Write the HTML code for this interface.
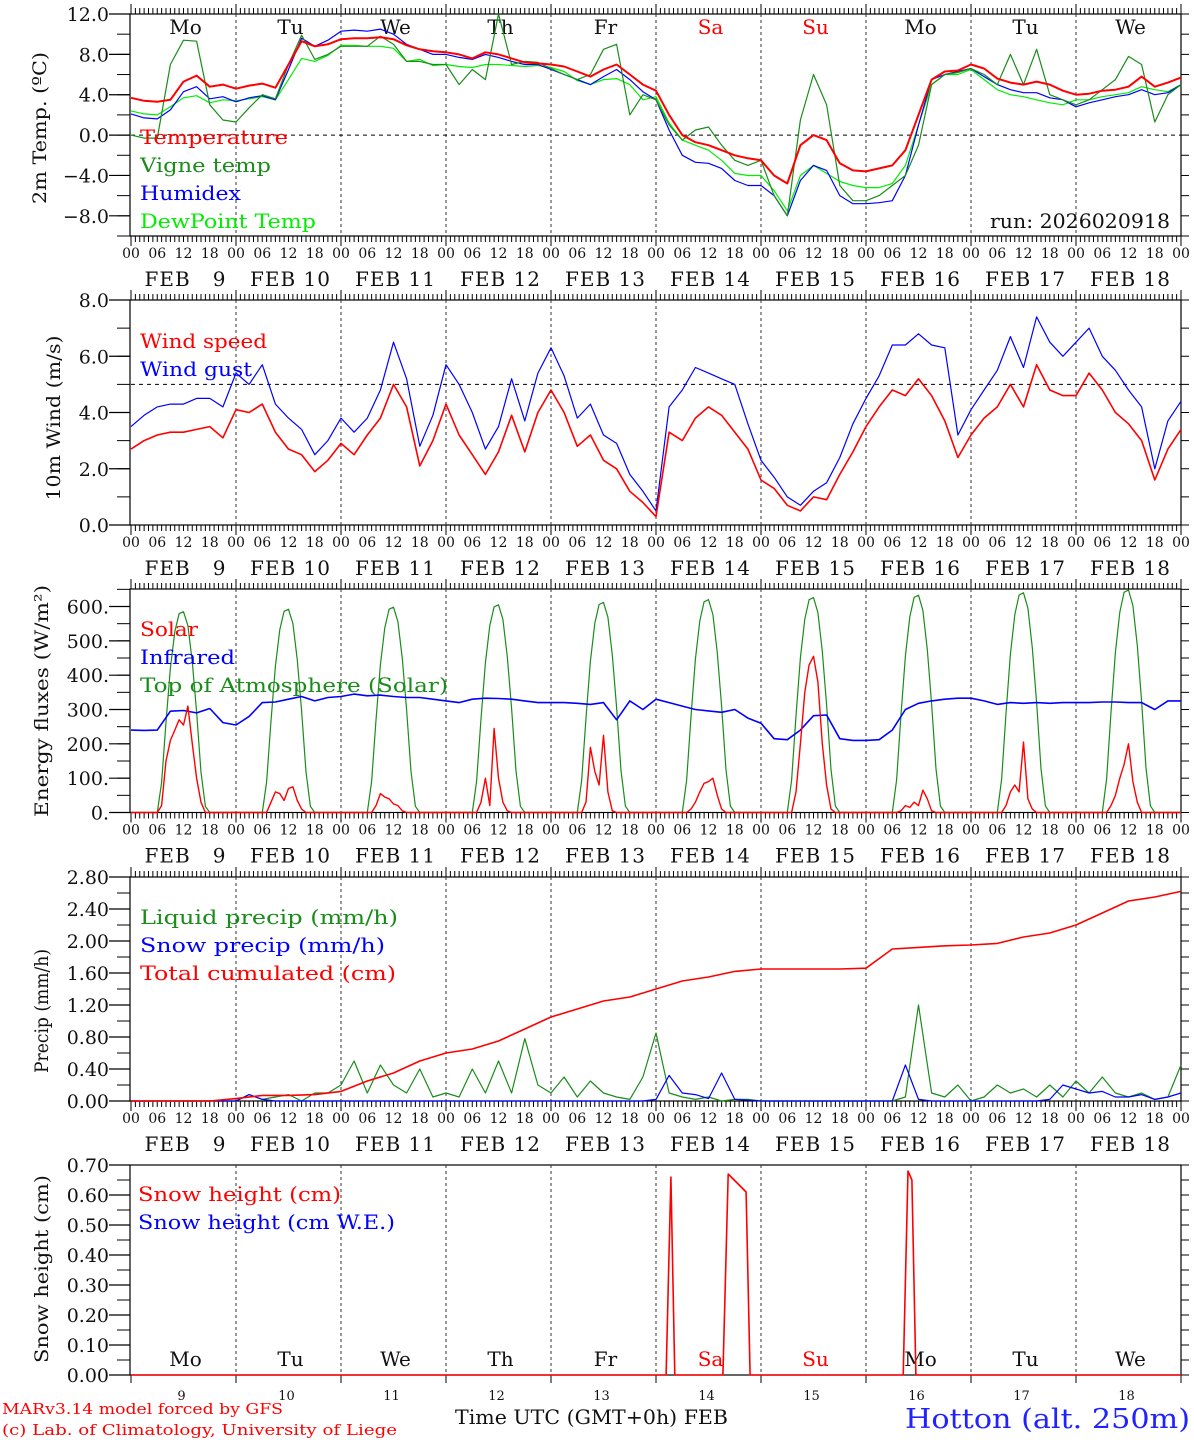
<!DOCTYPE html>
<html><head><meta charset="utf-8"><title>MAR meteogram Hotton</title>
<style>
html,body{margin:0;padding:0;background:#fff;}
svg{display:block;font-family:"DejaVu Serif","Liberation Serif",serif;}
</style></head>
<body>
<svg id="chart" width="1194" height="1440" viewBox="0 0 1194 1440" xmlns="http://www.w3.org/2000/svg"></svg>
<script>
// ---------- DATA (3-hourly unless noted; hour 0 = FEB 9 00 UTC) ----------
const dayNames = ["Mo","Tu","We","Th","Fr","Sa","Su","Mo","Tu","We"];
const dayNums = ["9","10","11","12","13","14","15","16","17","18"];
const hourTicks = ["00","06","12","18"];

const tempRed = [3.7,3.4,3.3,3.5,5.3,5.9,4.8,5.0, 4.6,4.9,5.1,4.7,7.0,9.3,8.8,9.0, 9.5,9.6,9.6,9.7,9.5,8.9,8.5,8.3, 8.2,8.0,7.6,8.2,8.0,7.6,7.2,7.1, 7.0,6.8,6.3,5.8,6.5,7.0,6.0,5.0, 4.4,2.0,0.0,-0.7,-1.0,-1.5,-2.0,-2.3, -2.5,-4.0,-4.8,-1.0,0.0,-0.5,-2.8,-3.5, -3.6,-3.3,-3.0,-1.5,2.0,5.5,6.3,6.4, 7.0,6.6,5.6,5.2,5.0,5.3,5.0,4.4, 4.0,4.1,4.4,4.5,4.8,5.8,4.8,5.2,5.7];
const tempVigne = [0.0,-0.3,-0.3,7.0,9.4,9.3,3.0,1.5, 1.3,2.7,4.0,3.6,7.0,9.9,7.5,8.0, 8.8,8.8,8.8,9.8,9.0,7.3,7.3,7.0, 7.0,5.0,6.5,5.5,12.0,7.0,7.3,7.2, 6.6,6.0,5.5,6.0,8.5,9.0,2.0,4.0, 3.5,1.0,-0.5,0.5,0.8,-1.0,-2.5,-3.0, -2.5,-6.0,-8.0,1.5,6.0,3.0,-5.0,-6.5, -6.5,-6.0,-5.0,-4.0,-1.0,5.0,6.0,6.2, 6.6,6.0,5.0,8.0,5.0,8.5,4.0,3.5, 3.0,3.5,4.5,5.5,7.8,7.0,1.3,4.0,5.0];
const tempHumidex = [2.1,1.7,1.6,2.5,4.3,4.8,3.6,3.8, 3.3,3.7,3.9,3.5,6.5,9.6,8.8,9.4, 10.3,10.4,10.3,10.5,10.0,9.0,8.5,8.0, 8.0,7.7,7.5,8.0,7.7,7.3,7.0,7.0, 6.5,6.0,5.5,5.0,5.8,6.5,5.5,4.3, 3.5,0.5,-2.0,-2.7,-2.8,-3.3,-4.5,-5.0, -5.0,-6.0,-8.0,-4.5,-3.0,-3.5,-6.0,-6.8, -6.8,-6.7,-6.5,-4.0,1.0,5.5,6.0,6.3, 6.6,5.8,5.0,4.5,4.2,4.2,3.7,3.5, 2.8,3.2,3.5,3.8,4.0,4.5,4.0,4.2,5.0];
const tempDew = [2.4,2.1,2.0,2.8,3.7,3.9,3.2,3.5, 3.4,3.6,3.8,3.5,5.5,7.6,7.3,7.9, 8.9,8.9,8.8,8.8,8.6,7.3,7.5,6.9, 7.0,6.8,6.7,7.0,7.0,6.9,6.8,6.9, 6.7,6.3,5.4,5.0,5.5,5.6,5.0,3.5, 3.8,1.2,-0.5,-1.0,-1.5,-2.5,-3.8,-4.0, -4.0,-5.5,-7.5,-4.0,-3.0,-3.8,-4.6,-5.0, -5.2,-5.2,-4.8,-3.0,1.0,5.0,6.0,6.0, 6.5,5.5,4.5,4.0,3.8,3.5,3.2,3.0, 3.5,3.5,3.8,4.0,4.2,4.8,4.5,4.3,5.0];

const windSpeed = [2.7,3.0,3.2,3.3,3.3,3.4,3.5,3.1, 4.1,4.0,4.3,3.3,2.7,2.5,1.9,2.3, 2.9,2.5,3.2,3.8,5.0,4.2,2.1,3.0, 4.3,3.2,2.5,1.8,2.6,3.9,2.6,4.0, 4.8,4.0,2.8,3.2,2.3,2.0,1.2,0.8, 0.3,3.3,3.0,3.8,4.2,3.9,3.3,2.7, 1.6,1.3,0.7,0.5,1.0,0.9,1.8,2.6, 3.5,4.2,4.8,4.6,5.2,4.6,3.7,2.4, 3.2,3.8,4.2,5.0,4.2,5.7,4.8,4.6, 4.6,5.4,4.8,4.0,3.6,3.0,1.6,2.7,3.4];
const windGust = [3.5,3.9,4.2,4.3,4.3,4.5,4.5,4.2, 5.4,5.0,5.7,4.3,3.8,3.4,2.5,3.0, 3.8,3.3,3.8,4.8,6.5,5.2,2.8,3.9, 5.7,5.0,4.0,2.7,3.5,5.2,3.7,5.4, 6.3,5.3,3.8,4.3,3.2,2.9,1.8,1.2, 0.5,4.2,4.8,5.6,5.4,5.2,5.0,3.6, 2.3,1.7,1.0,0.7,1.2,1.5,2.4,3.6, 4.5,5.3,6.4,6.4,6.8,6.4,6.3,3.2, 4.1,4.8,5.5,6.7,5.6,7.4,6.5,6.0, 6.5,7.0,6.0,5.5,4.8,4.2,2.0,3.7,4.4];

// Solar (hourly, hours 7..17 of each day; zero otherwise)
const solarDay = [
 [20,150,210,240,270,255,310,200,100,30,0],
 [0,30,60,55,35,70,75,35,10,0,0],
 [0,20,55,45,40,25,20,5,0,0,0],
 [0,30,100,20,245,100,30,5,0,0,0],
 [0,30,190,120,80,225,60,5,0,0,0],
 [0,10,30,60,85,90,100,50,10,0,0],
 [0,60,200,350,430,455,380,200,80,10,0],
 [0,5,20,15,30,20,65,40,5,0,0],
 [0,20,60,80,60,205,40,10,0,0,0],
 [0,20,50,100,140,200,90,30,0,0,0]];
// Top of atmosphere: daily peak and hourly normalized profile (hours 6..18)
const toaPeak = [585,592,598,605,612,620,626,633,640,648];
const toaProfile = [0,0.15,0.45,0.72,0.9,0.99,1,0.93,0.75,0.5,0.2,0.03,0];
const infrared = [240,239,240,295,297,290,303,262, 255,280,320,322,330,338,325,335, 338,345,340,342,338,335,335,330, 325,320,330,333,332,330,325,320, 320,320,318,315,320,270,325,300, 330,320,310,300,296,292,300,275, 260,215,212,240,282,284,215,210, 210,212,240,300,318,325,330,333, 333,325,315,320,318,320,318,320, 320,320,322,322,320,320,300,325,325];

// Precip: cumulated is 6-hourly
const precipCum = [0,0,0,0, 0.03,0.07,0.07,0.08, 0.12,0.25,0.35,0.5, 0.6,0.65,0.75,0.9, 1.05,1.15,1.25,1.3, 1.4,1.5,1.55,1.62, 1.65,1.65,1.65,1.65, 1.66,1.9,1.92,1.94, 1.95,1.97,2.05,2.1, 2.2,2.35,2.5,2.55,2.62];
const precipLiquid = [0,0,0,0,0,0,0,0, 0,0.08,0.02,0.05,0.08,0,0.1,0.1, 0.2,0.5,0.1,0.45,0.2,0.1,0.4,0.05, 0.1,0.05,0.4,0.1,0.5,0.1,0.78,0.2, 0.1,0.3,0.05,0.25,0.1,0.05,0.02,0.3, 0.85,0.1,0.05,0.02,0.05,0,0.02,0.02, 0,0,0,0,0,0,0,0, 0,0,0,0.05,1.2,0.1,0.05,0.2, 0,0.05,0.2,0.1,0.15,0.05,0.2,0.05, 0.25,0.1,0.3,0.1,0.05,0.1,0.02,0.05,0.45];
const precipSnow = [0,0,0,0,0,0,0,0, 0,0.08,0.02,0,0,0,0,0, 0,0,0,0,0,0,0,0, 0,0,0,0,0,0,0,0, 0,0,0,0,0,0,0,0, 0.02,0.32,0.1,0.08,0.03,0.35,0.02,0.01, 0,0,0,0,0,0,0,0, 0,0,0,0.45,0.02,0,0,0, 0,0,0,0,0,0,0.02,0.2, 0.15,0.1,0.12,0.05,0.05,0.08,0.02,0.05,0.1];

const snowHours = [0,122.3,123.4,124.3,135.3,136.5,140.6,141.5,176.5,177.6,178.5,179.4,240];
const snowValues = [0,0,0.66,0,0,0.67,0.61,0,0,0.68,0.65,0,0];

// ---------- DRAW ----------
const svg = document.getElementById('chart');
const NS = 'http://www.w3.org/2000/svg';
const X0 = 131, X1 = 1181, HOURS = 240;
const xs = h => X0 + h * (X1 - X0) / HOURS;
function el(tag, attrs, parent){ const e=document.createElementNS(NS,tag); for(const k in attrs) e.setAttribute(k,attrs[k]); (parent||svg).appendChild(e); return e; }
function txt(s, attrs, parent){ const e=el('text',attrs,parent); e.textContent=s; return e; }

function panel(name, top, bot, vmin, vmax, majors, fmt, minorStep, ytitle, titleX, titleY, titleLen, hourStrip){
  const g = el('g',{});
  
  
  const ys = v => bot - (v - vmin) * (bot - top) / (vmax - vmin);
  const fr = el('rect',{x:X0-1,y:top,width:X1-X0+1,height:bot-top,fill:'none',stroke:'#000','stroke-width':1.2},g);
  
  
  for(let v=vmin; v<=vmax+1e-9; v+=minorStep){
    const y=ys(v);
    el('line',{x1:X0-14,y1:y,x2:X0-1,y2:y,stroke:'#000','stroke-width':1},g);
    el('line',{x1:X1,y1:y,x2:X1+8,y2:y,stroke:'#000','stroke-width':1},g);
  }
  majors.forEach(v=>{
    const y=ys(v);
    el('line',{x1:X0-22,y1:y,x2:X0-1,y2:y,stroke:'#000','stroke-width':1.2},g);
    const t=txt(fmt(v),{x:X0-22,y:y+7,'text-anchor':'end','font-size':19,fill:'#111'},g);
    
    
  });
  const yt = txt(ytitle,{x:titleX,y:titleY,'text-anchor':'middle','font-size':19,fill:'#111',textLength:titleLen,lengthAdjust:'spacingAndGlyphs',transform:`rotate(-90 ${titleX} ${titleY})`},g);
  
  
  for(let d=1; d<10; d++){
    const x=xs(d*24);
    el('line',{x1:x,y1:top,x2:x,y2:bot,stroke:'#333','stroke-width':1,'stroke-dasharray':'3,3'},g);
  }
  if(hourStrip){
    for(let h=0; h<=HOURS; h++){
      const x=xs(h), L = (h%24===0)?10:6;
      el('line',{x1:x,y1:top-L,x2:x,y2:top,stroke:'#000','stroke-width':1},g);
      el('line',{x1:x,y1:bot,x2:x,y2:bot+L,stroke:'#000','stroke-width':1},g);
    }
    for(let d=0; d<=10; d++){
      for(let k=0;k<4;k++){
        if(d===10 && k>0) break;
        const t=txt(hourTicks[k],{x:xs(d*24+k*6),y:bot+22,'text-anchor':'middle','font-size':14,fill:'#111'},g);
        
        
      }
      if(d<10){
        const t=txt('FEB '+(dayNums[d].length<2?'\u00a0\u00a0':'')+dayNums[d],{x:xs(d*24+12)+2,y:bot+50,'text-anchor':'middle','font-size':20,'letter-spacing':1,fill:'#111'},g);
        
        
      }
    }
  }
  return {g, ys};
}
function line(p, hours, vals, color, w, name){
  const pts = vals.map((v,i)=>xs(hours(i)).toFixed(1)+','+p.ys(v).toFixed(1)).join(' ');
  const e = el('polyline',{points:pts,fill:'none',stroke:color,'stroke-width':w,'stroke-linejoin':'round'},p.g);
  
  
  return e;
}
function legend(p, items, x, y0, dy){
  items.forEach((it,i)=>{
    const t=txt(it[0],{x:x,y:y0+i*dy,'font-size':20,fill:it[1],textLength:it[2],lengthAdjust:'spacingAndGlyphs'},p.g);
    
    
  });
}
function dayLabels(p, y){
  dayNames.forEach((n,d)=>{
    const t=txt(n,{x:xs(d*24+12)+2,y:y,'text-anchor':'middle','font-size':20,fill:(d===5||d===6)?'#f00':'#111'},p.g);
    
    
  });
}
const h3 = i=>i*3, h6 = i=>i*6;

// Panel 1: temperature
const p1 = panel('temperature',14,236,-10,12,[-8,-4,0,4,8,12],v=>v.toFixed(1).replace('-','\u2212'),2,'2m Temp. (\u00baC)',46,128,152,true);
el('line',{x1:X0,y1:p1.ys(0),x2:X1,y2:p1.ys(0),stroke:'#000','stroke-width':1,'stroke-dasharray':'4,4'},p1.g);
dayLabels(p1, 34);
line(p1,h3,tempDew,'#00ee00',1.2,'dewpoint-line');
line(p1,h3,tempHumidex,'#0000ff',1.2,'humidex-line');
line(p1,h3,tempVigne,'#1a8c1a',1.2,'vigne-temp-line');
line(p1,h3,tempRed,'#ff0000',2,'temperature-line');
legend(p1,[['Temperature','#ff0000',148],['Vigne temp','#1a8c1a',131],['Humidex','#0000ff',101],['DewPoint Temp','#00ee00',176]],140,144,28);
{const t=txt('run: 2026020918',{x:990,y:228,'font-size':20,fill:'#111',textLength:180,lengthAdjust:'spacingAndGlyphs'},p1.g);  }

// Panel 2: wind
const p2 = panel('wind',300,525,0,8,[0,2,4,6,8],v=>v.toFixed(1),1,'10m Wind (m/s)',60,418,165,true);
el('line',{x1:X0,y1:p2.ys(5),x2:X1,y2:p2.ys(5),stroke:'#000','stroke-width':1,'stroke-dasharray':'4,4'},p2.g);
line(p2,h3,windGust,'#0000ff',1.2,'wind-gust-line');
line(p2,h3,windSpeed,'#ff0000',1.6,'wind-speed-line');
legend(p2,[['Wind speed','#ff0000',127],['Wind gust','#0000ff',112]],140,348,28);

// Panel 3: energy
const p3 = panel('energy',589,812.5,0,651,[0,100,200,300,400,500,600],v=>v+'.',50,'Energy fluxes (W/m\u00b2)',48,701,232,true);
const toaH=[], toaV=[], solH=[], solV=[];
for(let d=0; d<10; d++){
  toaProfile.forEach((f,k)=>{ toaH.push(d*24+6+k); toaV.push(toaPeak[d]*f); });
  solH.push(d*24+6); solV.push(0);
  solarDay[d].forEach((v,k)=>{ solH.push(d*24+7+k); solV.push(v); });
  solH.push(d*24+18); solV.push(0);
}
toaH.unshift(0); toaV.unshift(0); toaH.push(240); toaV.push(0);
solH.unshift(0); solV.unshift(0); solH.push(240); solV.push(0);
line(p3,i=>toaH[i],toaV,'#1a8c1a',1.2,'toa-solar-line');
line(p3,h3,infrared,'#0000ff',1.6,'infrared-line');
line(p3,i=>solH[i],solV,'#ff0000',1.4,'solar-line');
legend(p3,[['Solar','#ff0000',58],['Infrared','#0000ff',95],['Top of Atmosphere (Solar)','#1a8c1a',308]],140,636,28);

// Panel 4: precip
const p4 = panel('precip',877,1101,0,2.8,[0,0.4,0.8,1.2,1.6,2.0,2.4,2.8],v=>v.toFixed(2),0.2,'Precip (mm/h)',48,1011,124,true);
line(p4,h3,precipLiquid,'#1a8c1a',1.2,'liquid-precip-line');
line(p4,h3,precipSnow,'#0000ff',1.2,'snow-precip-line');
line(p4,h6,precipCum,'#ff0000',1.6,'cumulated-precip-line');
legend(p4,[['Liquid precip (mm/h)','#1a8c1a',258],['Snow precip (mm/h)','#0000ff',245],['Total cumulated (cm)','#ff0000',256]],140,924,28);

// Panel 5: snow height
const p5 = panel('snow',1165,1375,0,0.7,[0,0.1,0.2,0.3,0.4,0.5,0.6,0.7],v=>v.toFixed(2),0.05,'Snow height (cm)',48,1269,188,false);
for(let d=0; d<=10; d++){ el('line',{x1:xs(d*24),y1:1375,x2:xs(d*24),y2:1383,stroke:'#000','stroke-width':1},p5.g); }
dayLabels(p5, 1366);
line(p5,i=>snowHours[i],snowValues,'#ff0000',1.6,'snow-height-line');
legend(p5,[['Snow height (cm)','#ff0000',203],['Snow height (cm W.E.)','#0000ff',257]],138,1201,28);
dayNums.forEach((n,d)=>{
  const t=txt(n,{x:xs(d*24+12)-2,y:1400,'text-anchor':'middle','font-size':13,fill:'#111'},p5.g);
  
  
});
{const t=txt('Time UTC (GMT+0h) FEB',{x:455,y:1424,'font-size':20,fill:'#111',textLength:273,lengthAdjust:'spacingAndGlyphs'});  }
{const t=txt('MARv3.14 model forced by GFS',{x:2,y:1414,'font-size':15,fill:'#ff0000',textLength:281,lengthAdjust:'spacingAndGlyphs'});  }
{const t=txt('(c) Lab. of Climatology, University of Liege',{x:2,y:1435,'font-size':15,fill:'#ff0000',textLength:395,lengthAdjust:'spacingAndGlyphs'});  }
{const t=txt('Hotton (alt. 250m)',{x:905,y:1428,'font-size':27,fill:'#2222ff',textLength:285,lengthAdjust:'spacingAndGlyphs'});  }
</script>
</body></html>
